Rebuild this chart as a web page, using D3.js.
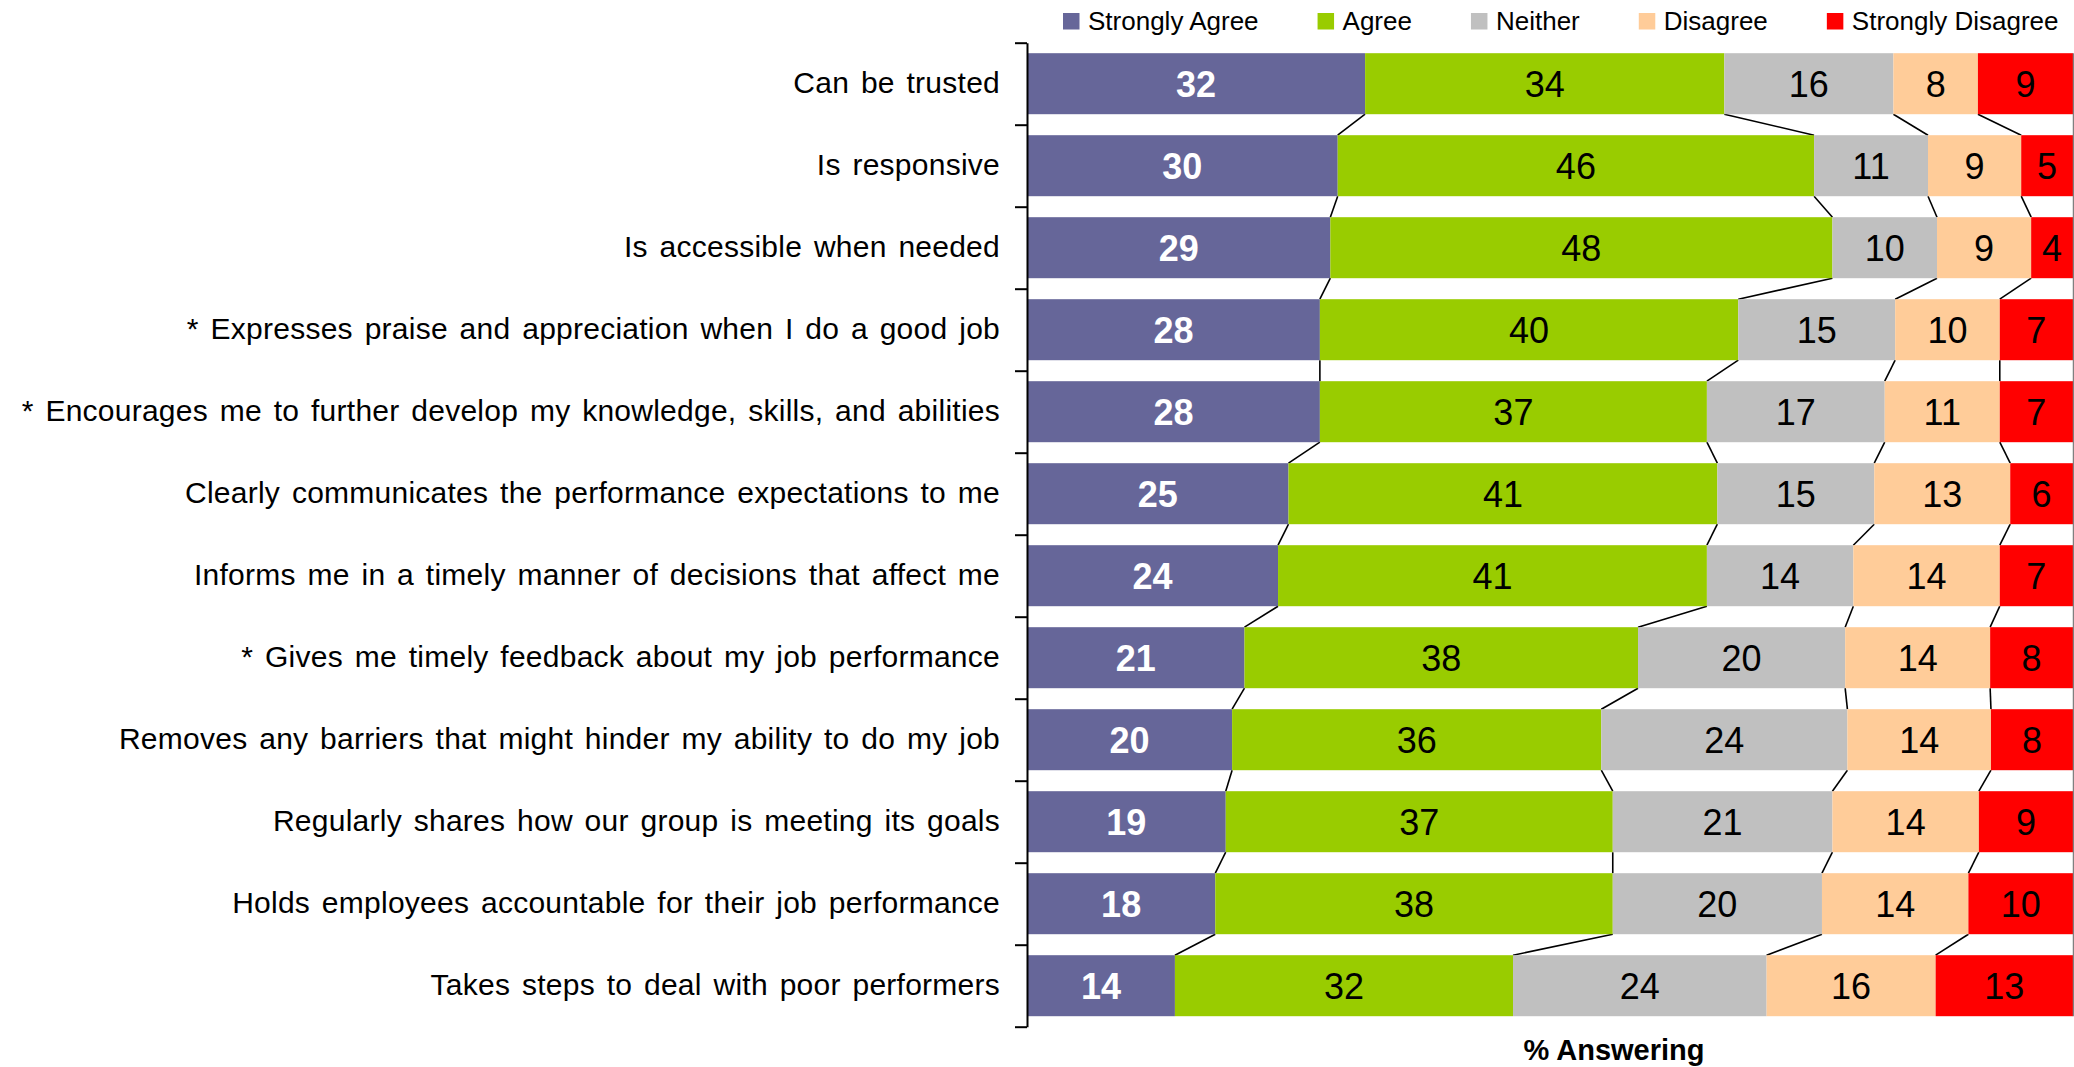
<!DOCTYPE html>
<html>
<head>
<meta charset="utf-8">
<script src="https://cdn.jsdelivr.net/npm/d3@7"></script>
<style>
  html, body { margin: 0; padding: 0; background: #fff; }
  svg { display: block; font-family: "Liberation Sans", Arial, sans-serif; }
</style>
</head>
<body>
<svg id="chart" width="2074" height="1067"></svg>
<script>
// Survey items, top to bottom
const categories = [
  "Can be trusted",
  "Is responsive",
  "Is accessible when needed",
  "* Expresses praise and appreciation when I do a good job",
  "* Encourages me to further develop my knowledge, skills, and abilities",
  "Clearly communicates the performance expectations to me",
  "Informs me in a timely manner of decisions that affect me",
  "* Gives me timely feedback about my job performance",
  "Removes any barriers that might hinder my ability to do my job",
  "Regularly shares how our group is meeting its goals",
  "Holds employees accountable for their job performance",
  "Takes steps to deal with poor performers"
];

// Percent answering, per response option
const stronglyAgree    = [32, 30, 29, 28, 28, 25, 24, 21, 20, 19, 18, 14];
const agree            = [34, 46, 48, 40, 37, 41, 41, 38, 36, 37, 38, 32];
const neither          = [16, 11, 10, 15, 17, 15, 14, 20, 24, 21, 20, 24];
const disagree         = [ 8,  9,  9, 10, 11, 13, 14, 14, 14, 14, 14, 16];
const stronglyDisagree = [ 9,  5,  4,  7,  7,  6,  7,  8,  8,  9, 10, 13];

const seriesNames = ["Strongly Agree", "Agree", "Neither", "Disagree", "Strongly Disagree"];
const seriesValues = [stronglyAgree, agree, neither, disagree, stronglyDisagree];
const seriesColors = ["#666699", "#99CC00", "#C0C0C0", "#FFCC99", "#FF0000"];
const axisTitle = "% Answering";

// Row records for the stack layout
const rows = categories.map((c, i) => {
  const r = { category: c };
  seriesNames.forEach((s, k) => { r[s] = seriesValues[k][i]; });
  return r;
});

const svg = d3.select("#chart");

const plot = { left: 1027, right: 2073, top: 42.7, bottom: 1026.7 };

// 100% stacked bars: each row is scaled to its own total
const stack = d3.stack().keys(seriesNames).offset(d3.stackOffsetExpand);
const layers = stack(rows);

const x = d3.scaleLinear().domain([0, 1]).range([plot.left, plot.right]);
const y = d3.scaleBand()
  .domain(categories)
  .range([plot.top, plot.bottom])
  .paddingInner(0.256)
  .paddingOuter(0.128);
const yTicks = d3.scaleLinear().domain([0, categories.length]).range([plot.top, plot.bottom]);

// Series lines joining segment boundaries of neighbouring bars
const connectors = svg.append("g").attr("class", "series-lines");
layers.slice(0, seriesNames.length - 1).forEach(layer => {
  for (let i = 0; i < rows.length - 1; i++) {
    const a = layer[i], b = layer[i + 1];
    connectors.append("line")
      .attr("x1", x(a[1])).attr("y1", y(a.data.category) + y.bandwidth())
      .attr("x2", x(b[1])).attr("y2", y(b.data.category))
      .attr("stroke", "#000").attr("stroke-width", 1.6);
  }
});

// Bars
const layerG = svg.append("g").selectAll("g")
  .data(layers).join("g")
  .attr("fill", (d, k) => seriesColors[k]);

layerG.selectAll("rect")
  .data(d => d).join("rect")
  .attr("x", d => x(d[0]))
  .attr("y", d => y(d.data.category))
  .attr("width", d => x(d[1]) - x(d[0]))
  .attr("height", y.bandwidth());

// Value labels
layerG.each(function (layer, k) {
  d3.select(this).selectAll("text")
    .data(layer).join("text")
    .attr("x", d => (x(d[0]) + x(d[1])) / 2)
    .attr("y", d => y(d.data.category) + y.bandwidth() / 2 + 13)
    .attr("text-anchor", "middle")
    .attr("font-size", 36)
    .attr("font-weight", k === 0 ? "bold" : "normal")
    .attr("fill", k === 0 ? "#fff" : "#000")
    .text(d => d.data[layer.key]);
});

// Right border of the plot area
svg.append("line")
  .attr("x1", plot.right + 0.5).attr("x2", plot.right + 0.5)
  .attr("y1", y(categories[0])).attr("y2", y(categories[categories.length - 1]) + y.bandwidth())
  .attr("stroke", "#808080").attr("stroke-width", 1.5);

// Category axis with tick marks between the bars
const axisG = svg.append("g")
  .attr("transform", `translate(${plot.left},0)`)
  .call(d3.axisLeft(yTicks)
    .tickValues(d3.range(categories.length + 1))
    .tickSize(12)
    .tickSizeOuter(0)
    .tickFormat(""));
axisG.selectAll("path, line").attr("stroke", "#000").attr("stroke-width", 2);

// Category labels
svg.append("g").selectAll("text")
  .data(categories).join("text")
  .attr("x", 1000)
  .attr("y", d => y(d) + y.bandwidth() / 2 + 9.5)
  .attr("text-anchor", "end")
  .attr("font-size", 30)
  .attr("word-spacing", 3.2)
  .attr("letter-spacing", 0.25)
  .attr("fill", "#000")
  .text(d => d);

// Axis title
svg.append("text")
  .attr("x", 1614).attr("y", 1060)
  .attr("text-anchor", "middle")
  .attr("font-size", 29)
  .attr("font-weight", "bold")
  .text(axisTitle);

// Legend
const legend = svg.append("g").attr("class", "legend");
let lx = 1063;
seriesNames.forEach((name, k) => {
  legend.append("rect")
    .attr("x", lx).attr("y", 13)
    .attr("width", 16.5).attr("height", 16.5)
    .attr("fill", seriesColors[k]);
  const t = legend.append("text")
    .attr("x", lx + 25).attr("y", 30)
    .attr("font-size", 26)
    .attr("fill", "#000")
    .text(name);
  lx += 25 + t.node().getComputedTextLength() + 59;
});
</script>
</body>
</html>
